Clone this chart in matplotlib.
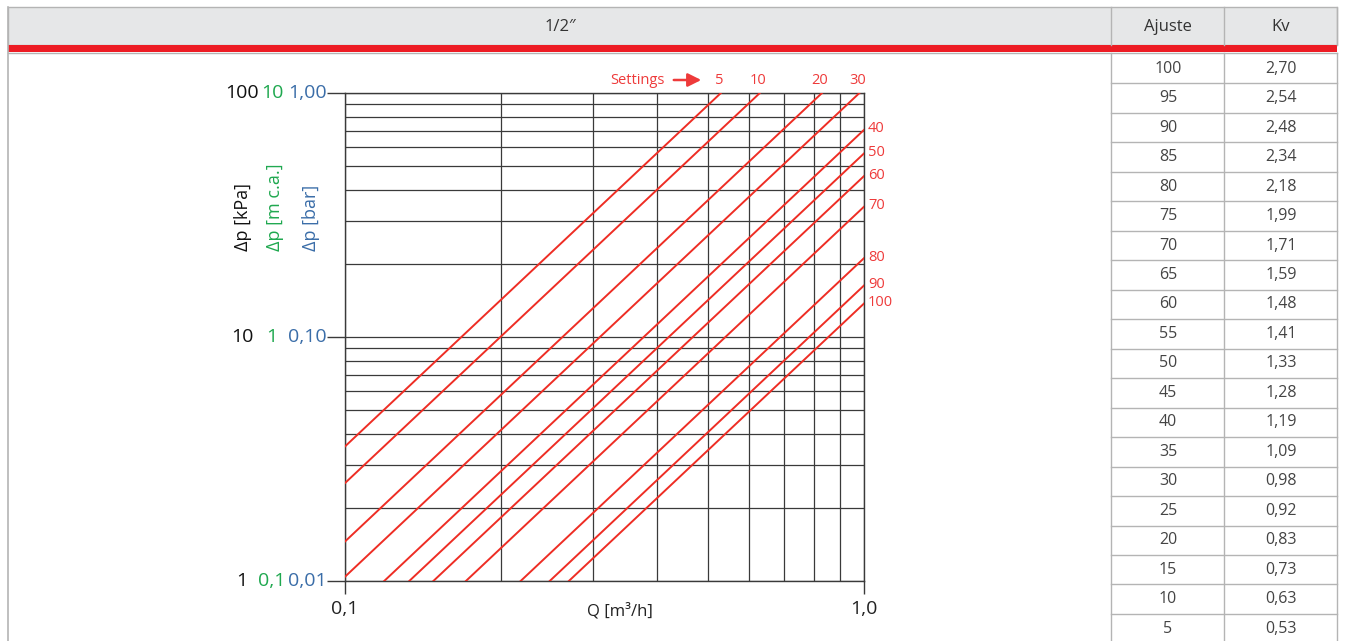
import numpy as np
import matplotlib
matplotlib.use('Agg')
from matplotlib import pyplot as plt
from matplotlib.patches import Rectangle
from matplotlib.ticker import NullFormatter

plt.rcParams['font.family'] = ['Open Sans', 'DejaVu Sans']

# tabela de ajustes e Kv
ajuste = [100, 95, 90, 85, 80, 75, 70, 65, 60, 55, 50, 45, 40, 35, 30, 25, 20, 15, 10, 5]
kv = [2.70, 2.54, 2.48, 2.34, 2.18, 1.99, 1.71, 1.59, 1.48, 1.41,
      1.33, 1.28, 1.19, 1.09, 0.98, 0.92, 0.83, 0.73, 0.63, 0.53]
# curvas desenhadas no diagrama
settings = [5, 10, 20, 30, 40, 50, 60, 70, 80, 90, 100]
q_limits = [0.1, 1.0]
kpa_ticks = [1, 10, 100]
kpa_labels = ['1', '10', '100']
mca_labels = ['0,1', '1', '10']
bar_labels = ['0,01', '0,10', '1,00']

RED = '#ee2d24'
RED_TXT = '#ee3a3a'
GREEN = '#1fa84f'
BLUE = '#3a6da8'
GRID = '#3a3a3a'
TBL = '#b4b4b4'
TXT = '#444444'

W, H = 1345, 641
fig = plt.figure(figsize=(W / 100, H / 100), dpi=100)

# fundo: cabecalho e tabela (coordenadas em pixels)
bg = fig.add_axes([0, 0, 1, 1])
bg.set_xlim(0, W)
bg.set_ylim(H, 0)
bg.axis('off')

bg.add_patch(Rectangle((8, 7), 1329, 38, facecolor='#e6e7e8', edgecolor=TBL, lw=1))
bg.add_patch(Rectangle((8, 45), 1329, 7, facecolor='#ed1c24', edgecolor='none'))
bg.plot([8, 1337], [53, 53], color=TBL, lw=1)
bg.plot([8, 8], [7, H], color=TBL, lw=1.2)
for x in [1111, 1224, 1337]:
    bg.plot([x, x], [7, 45], color=TBL, lw=1)
    bg.plot([x, x], [53, H], color=TBL, lw=1)
bg.text(560, 27, '1/2\u2033', ha='center', va='center', fontsize=12, color='#333333')
bg.text(1168, 27, 'Ajuste', ha='center', va='center', fontsize=12, color='#333333')
bg.text(1281, 27, 'Kv', ha='center', va='center', fontsize=12, color='#333333')

row_h = 29.47
top = 54
for i, (a, k) in enumerate(zip(ajuste, kv)):
    yc = top + (i + 0.5) * row_h
    bg.text(1168, yc, str(a), ha='center', va='center', fontsize=11.5, color=TXT)
    bg.text(1281, yc, ('%.2f' % k).replace('.', ','), ha='center', va='center',
            fontsize=11.5, color=TXT)
    if i > 0:
        bg.plot([1111, 1337], [top + i * row_h] * 2, color=TBL, lw=1)

# diagrama
ax = fig.add_axes([345 / W, 60 / H, 519 / W, 488 / H])
ax.set_xscale('log')
ax.set_yscale('log')
ax.set_xlim(q_limits)
ax.set_ylim(kpa_ticks[0], kpa_ticks[-1])
for sp in ax.spines.values():
    sp.set_color(GRID)
    sp.set_linewidth(1)

ax.set_xticks(q_limits)
ax.set_xticklabels(['0,1', '1,0'], fontsize=14, color='#222222')
ax.set_xticks(np.arange(2, 10) / 10, minor=True)
ax.set_yticks(kpa_ticks)
ax.set_yticklabels([])
ax.set_yticks(np.concatenate([np.arange(2, 10), np.arange(2, 10) * 10]), minor=True)
ax.xaxis.set_minor_formatter(NullFormatter())
ax.yaxis.set_minor_formatter(NullFormatter())
ax.tick_params(axis='x', length=9, width=1, color=GRID, pad=5)
ax.tick_params(axis='y', length=13, width=1, color=GRID)
ax.tick_params(which='minor', length=0)
ax.grid(True, which='both', color=GRID, lw=0.9)

kv_de = dict(zip(ajuste, kv))
q = np.array(q_limits)
for s in settings:
    k = kv_de[s]
    dp = 100 * (q / k) ** 2
    ax.plot(q, dp, color=RED, lw=1.4, clip_on=True, zorder=3)
    dp_end = 100 * (q_limits[1] / k) ** 2
    if dp_end >= 100:
        ax.annotate(str(s), xy=(k, 100), xytext=(-2, 13), textcoords='offset pixels',
                    ha='center', va='center', fontsize=10.5, color=RED_TXT,
                    annotation_clip=False)
    else:
        ax.annotate(str(s), xy=(q_limits[1], dp_end), xytext=(4, 1), textcoords='offset pixels',
                    ha='left', va='center', fontsize=10.5, color=RED_TXT,
                    annotation_clip=False)

# rotulos das tres escalas
ytr = ax.get_yaxis_transform()
for v, l1, l2, l3 in zip(kpa_ticks, kpa_labels, mca_labels, bar_labels):
    ax.annotate(l1, xy=(0, v), xycoords=ytr, xytext=(-103, 0), textcoords='offset pixels',
                ha='center', va='center', fontsize=14, color='#111111', annotation_clip=False)
    ax.annotate(l2, xy=(0, v), xycoords=ytr, xytext=(-73, 0), textcoords='offset pixels',
                ha='center', va='center', fontsize=14, color=GREEN, annotation_clip=False)
    ax.annotate(l3, xy=(0, v), xycoords=ytr, xytext=(-18, 0), textcoords='offset pixels',
                ha='right', va='center', fontsize=14, color=BLUE, annotation_clip=False)

bg.text(243, 251, '\u0394p [kPa]', rotation=90, ha='center', va='bottom', fontsize=13, color='#111111')
bg.text(275, 251, '\u0394p [m c.a.]', rotation=90, ha='center', va='bottom', fontsize=13, color=GREEN)
bg.text(311, 251, '\u0394p [bar]', rotation=90, ha='center', va='bottom', fontsize=13, color=BLUE)
bg.text(620, 611, 'Q [m\u00b3/h]', ha='center', va='center', fontsize=12, color='#222222')

bg.text(665, 80, 'Settings', ha='right', va='center', fontsize=10.5, color=RED_TXT)
bg.annotate('', xy=(704, 80), xytext=(671, 80),
            arrowprops=dict(arrowstyle='-|>', color=RED_TXT, lw=1.8, mutation_scale=20))

fig.savefig('out.png', dpi=100)
